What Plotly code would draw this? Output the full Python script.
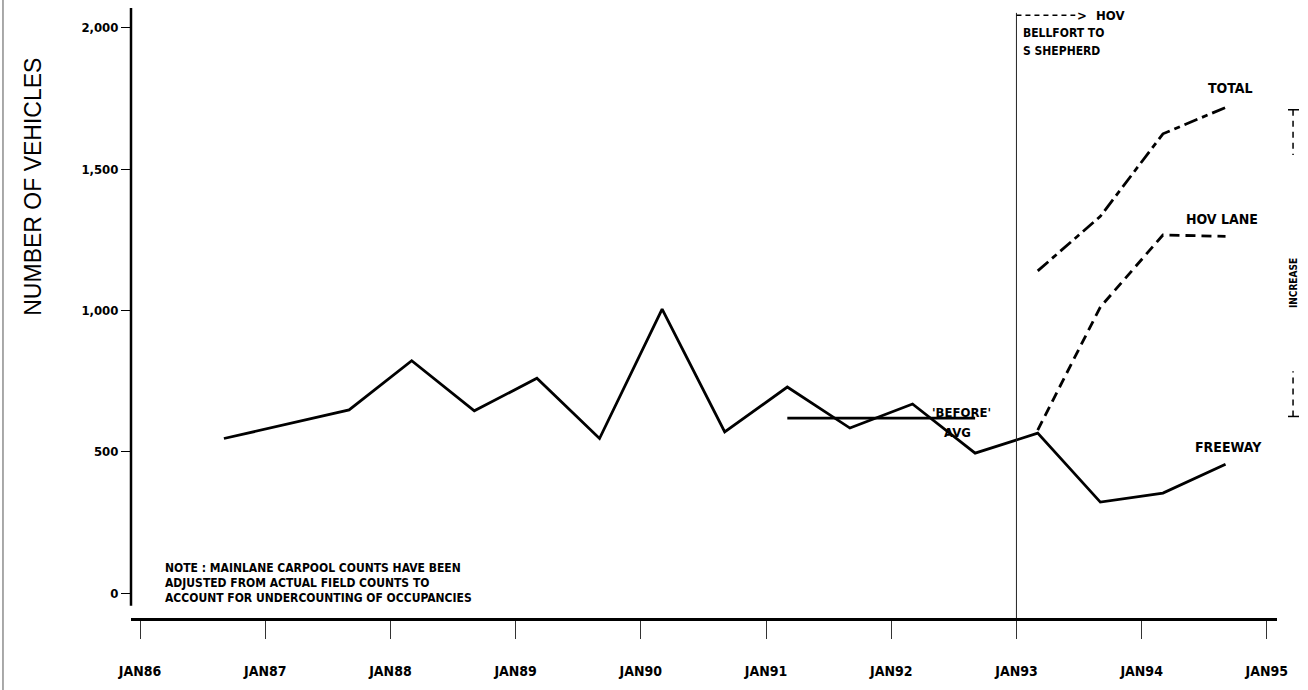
import plotly.graph_objects as go

# count dates as decimal years (spring / fall counts)
freeway_x = [1986.67, 1987.67, 1988.17, 1988.67, 1989.17, 1989.67, 1990.17, 1990.67,
             1991.17, 1991.67, 1992.17, 1992.67, 1993.17, 1993.67, 1994.17, 1994.67]
freeway_y = [547, 648, 822, 645, 760, 547, 1005, 570, 729, 584, 669, 495, 566, 322, 354, 456]

hov_x = [1993.17, 1993.67, 1994.17, 1994.67]
hov_y = [577, 1012, 1267, 1262]
total_y = [1140, 1333, 1625, 1718]

before_x = [1991.17, 1992.67]
before_y = [619, 619]

hov_open = 1993.0
increase_low, increase_high = 625, 1710

year_ticks = [1986, 1987, 1988, 1989, 1990, 1991, 1992, 1993, 1994, 1995]
year_labels = ["JAN86", "JAN87", "JAN88", "JAN89", "JAN90",
               "JAN91", "JAN92", "JAN93", "JAN94", "JAN95"]
y_ticks = [0, 500, 1000, 1500, 2000]
y_labels = ["0", "500", "1,000", "1,500", "2,000"]

NARROW = "Liberation Sans Narrow, Arial Narrow, DejaVu Sans Condensed, sans-serif"

def nfont(size):
    return dict(family=NARROW, size=size, color="black", weight="bold")

def label(x, y, text, size, **kw):
    d = dict(x=x, y=y, text=text, showarrow=False, font=nfont(size),
             xanchor="center", yanchor="middle")
    d.update(kw)
    return d

fig = go.Figure()
fig.add_trace(go.Scatter(x=freeway_x, y=freeway_y, mode="lines",
                         line=dict(color="black", width=2.8), name="FREEWAY"))
fig.add_trace(go.Scatter(x=hov_x, y=hov_y, mode="lines",
                         line=dict(color="black", width=2.8, dash="10px,6px"), name="HOV LANE"))
fig.add_trace(go.Scatter(x=hov_x, y=total_y, mode="lines",
                         line=dict(color="black", width=2.8, dash="14px,5px,6px,5px"), name="TOTAL"))
fig.add_trace(go.Scatter(x=before_x, y=before_y, mode="lines",
                         line=dict(color="black", width=2.6), name="'BEFORE' AVG"))

shapes = [
    # y axis line (stops short of the x axis)
    dict(type="line", xref="paper", yref="y", x0=0, x1=0, y0=-45, y1=2070,
         line=dict(color="black", width=2.5)),
    # HOV opening
    dict(type="line", xref="x", yref="paper", x0=hov_open, x1=hov_open, y0=0, y1=0.992,
         line=dict(color="#222", width=1)),
    dict(type="line", xref="x", yref="paper", x0=hov_open, x1=hov_open + 0.47, y0=0.988, y1=0.988,
         line=dict(color="black", width=1.6, dash="5px,4px")),
    # page edge
    dict(type="line", xref="paper", yref="paper", x0=-0.1117, x1=-0.1117, y0=-0.12, y1=1.02,
         line=dict(color="#555", width=1)),
    # increase bracket
    dict(type="line", xref="paper", yref="y", x0=1.0096, x1=1.0192, y0=increase_high, y1=increase_high,
         line=dict(color="black", width=1.5)),
    dict(type="line", xref="paper", yref="y", x0=1.014, x1=1.014, y0=increase_high, y1=increase_high - 160,
         line=dict(color="black", width=1.5, dash="6px,5px")),
    dict(type="line", xref="paper", yref="y", x0=1.0096, x1=1.0192, y0=increase_low, y1=increase_low,
         line=dict(color="black", width=1.5)),
    dict(type="line", xref="paper", yref="y", x0=1.014, x1=1.014, y0=increase_low, y1=increase_low + 160,
         line=dict(color="black", width=1.5, dash="6px,5px")),
]

annotations = [
    dict(x=-0.0855, y=0.707, xref="paper", yref="paper", text="NUMBER OF VEHICLES",
         textangle=-90, showarrow=False, xanchor="center", yanchor="middle",
         font=dict(family="Liberation Sans, Arial, sans-serif", size=23, color="black")),
    label(1994.71, 1787, "TOTAL", 14),
    label(1994.64, 1323, "HOV LANE", 14),
    label(1994.69, 517, "FREEWAY", 14),
    label(1992.56, 640, "'BEFORE'", 13),
    label(1992.53, 570, "AVG", 13),
    label(1993.47, 0.988, "&gt;", 13, yref="paper", xanchor="left"),
    label(1993.62, 0.988, "HOV", 13, yref="paper", xanchor="left"),
    label(1993.04, 0.959, "BELLFORT TO", 12, yref="paper", xanchor="left"),
    label(1993.04, 0.929, "S SHEPHERD", 12, yref="paper", xanchor="left"),
    label(1.014, 1097, "INCREASE", 10, xref="paper", textangle=-90),
    label(1986.18, 88, "NOTE : MAINLANE CARPOOL COUNTS HAVE BEEN", 12, xanchor="left"),
    label(1986.18, 35, "ADJUSTED FROM ACTUAL FIELD COUNTS TO", 12, xanchor="left"),
    label(1986.18, -18, "ACCOUNT FOR UNDERCOUNTING OF OCCUPANCIES", 12, xanchor="left"),
]

fig.update_layout(
    width=1308, height=690,
    margin=dict(l=131, r=31, t=8, b=72),
    paper_bgcolor="white", plot_bgcolor="white",
    showlegend=False,
    shapes=shapes,
    annotations=annotations,
    xaxis=dict(range=[1985.928, 1995.081], tickvals=year_ticks, ticktext=year_labels,
               showgrid=False, zeroline=False, showline=True, linecolor="black", linewidth=3,
               ticks="outside", ticklen=18, tickwidth=1, tickcolor="#333",
               ticklabelstandoff=20, tickfont=nfont(14)),
    yaxis=dict(range=[-88, 2070], tickvals=y_ticks, ticktext=y_labels,
               showgrid=False, zeroline=False, showline=False,
               ticks="outside", ticklen=9, tickwidth=1, tickcolor="black",
               tickfont=nfont(13)),
)

fig.write_html("out.html", config={"displayModeBar": False},
               post_script="document.body.style.margin='0';")
